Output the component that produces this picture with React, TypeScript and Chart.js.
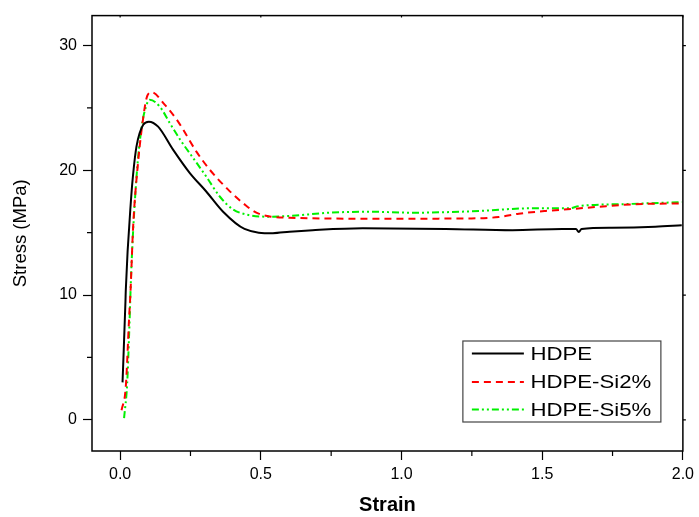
import React, { useEffect, useRef } from "react";
import { Chart, registerables } from "chart.js";

Chart.register(...registerables);

// ---- data (strain, stress in MPa) ----
const hdpeStrain = [0.0085, 0.019, 0.02, 0.04, 0.046, 0.058, 0.082, 0.102, 0.135, 0.188, 0.247, 0.306, 0.365, 0.442, 0.543, 0.602, 0.684, 0.862, 1.157, 1.394, 1.571, 1.62, 1.63, 1.64, 1.748, 1.902, 1.996];
const hdpeStress = [3.0, 9.55, 10.35, 18.07, 19.66, 21.9, 23.65, 23.9, 23.5, 21.66, 19.8, 18.3, 16.7, 15.3, 14.96, 15.08, 15.2, 15.35, 15.3, 15.2, 15.3, 15.3, 15.05, 15.3, 15.4, 15.48, 15.6];

const si2Strain = [0.005, 0.02, 0.032, 0.037, 0.046, 0.064, 0.082, 0.094, 0.111, 0.159, 0.206, 0.271, 0.318, 0.383, 0.442, 0.484, 0.537, 0.602, 0.921, 1.276, 1.346, 1.417, 1.512, 1.606, 1.701, 1.819, 1.996];
const si2Stress = [0.77, 2.63, 8.2, 10.35, 15.4, 20.7, 24.2, 25.8, 26.26, 25.25, 23.9, 21.5, 20.06, 18.47, 17.27, 16.6, 16.28, 16.2, 16.12, 16.15, 16.26, 16.52, 16.74, 16.9, 17.08, 17.27, 17.35];

const si5Strain = [0.014, 0.025, 0.032, 0.04, 0.058, 0.076, 0.094, 0.105, 0.141, 0.176, 0.218, 0.259, 0.306, 0.354, 0.401, 0.46, 0.531, 0.602, 0.744, 0.886, 1.039, 1.276, 1.453, 1.595, 1.63, 1.807, 1.996];
const si5Stress = [0.14, 2.9, 6.9, 12.2, 19.4, 23.4, 25.25, 25.65, 25.1, 23.8, 22.3, 21.0, 19.5, 17.9, 16.87, 16.4, 16.28, 16.34, 16.6, 16.68, 16.6, 16.74, 16.95, 16.95, 17.13, 17.3, 17.45];

const seriesNames = ["HDPE", "HDPE-Si2%", "HDPE-Si5%"];
const seriesColors = ["#000000", "#ff0000", "#00f000"];
const seriesDashes: number[][] = [[], [7, 5], [7, 3, 2, 3, 2, 3]];

const xMajorTicks = [0, 0.5, 1.0, 1.5, 2.0];
const xMinorTicks = [0.25, 0.75, 1.25, 1.75];
const yMajorTicks = [0, 10, 20, 30];
const yMinorTicks = [5, 15, 25];

const xTitle = "Strain";
const yTitle = "Stress (MPa)";

const toPoints = (xs: number[], ys: number[]) => xs.map((x, i) => ({ x, y: ys[i] }));

const framePlugin = {
  id: "frameAndLegend",
  afterDraw(chart: any) {
    const { ctx, chartArea } = chart;
    const { left, right, top, bottom } = chartArea;
    const xs = chart.scales.x;
    const ys = chart.scales.y;
    ctx.save();
    ctx.strokeStyle = "#000";
    ctx.lineWidth = 1.5;
    ctx.setLineDash([]);
    ctx.strokeRect(left, top, right - left, bottom - top);

    ctx.lineWidth = 1.2;
    ctx.beginPath();
    xMinorTicks.forEach((v) => {
      const px = xs.getPixelForValue(v);
      ctx.moveTo(px, bottom);
      ctx.lineTo(px, bottom + 5);
    });
    yMinorTicks.forEach((v) => {
      const py = ys.getPixelForValue(v);
      ctx.moveTo(left, py);
      ctx.lineTo(left - 5, py);
    });
    xMajorTicks.forEach((v) => {
      const px = xs.getPixelForValue(v);
      ctx.moveTo(px, top);
      ctx.lineTo(px, top + 2);
    });
    yMajorTicks.forEach((v) => {
      const py = ys.getPixelForValue(v);
      ctx.moveTo(right, py);
      ctx.lineTo(right + 3, py);
    });
    ctx.stroke();

    // legend box
    const bw = 198;
    const bh = 81;
    const bx = right - 22 - bw;
    const by = bottom - 29 - bh;
    ctx.fillStyle = "#fff";
    ctx.fillRect(bx, by, bw, bh);
    ctx.strokeStyle = "#444";
    ctx.lineWidth = 1.2;
    ctx.strokeRect(bx, by, bw, bh);

    const rowYs = [12.5, 41, 68.5];
    seriesNames.forEach((name, i) => {
      const ly = by + rowYs[i];
      ctx.strokeStyle = seriesColors[i];
      ctx.lineWidth = 2;
      ctx.setLineDash(seriesDashes[i]);
      ctx.beginPath();
      ctx.moveTo(bx + 9, ly);
      ctx.lineTo(bx + 61, ly);
      ctx.stroke();
      ctx.setLineDash([]);
      ctx.save();
      ctx.translate(bx + 67.5, ly + 1);
      ctx.scale(1.2, 1);
      ctx.fillStyle = "#000";
      ctx.font = "18.5px 'Liberation Sans', Arial, sans-serif";
      ctx.textBaseline = "middle";
      ctx.textAlign = "left";
      ctx.fillText(name, 0, 0);
      ctx.restore();
    });
    ctx.restore();
  },
};

export default function App() {
  const canvasRef = useRef<HTMLCanvasElement | null>(null);

  useEffect(() => {
    if (!canvasRef.current) return;
    Chart.defaults.font.family = "'Liberation Sans', Arial, sans-serif";
    Chart.defaults.color = "#000";
    const datasets = [
      toPoints(hdpeStrain, hdpeStress),
      toPoints(si2Strain, si2Stress),
      toPoints(si5Strain, si5Stress),
    ].map((data, i) => ({
      label: seriesNames[i],
      data,
      borderColor: seriesColors[i],
      backgroundColor: seriesColors[i],
      borderWidth: 2,
      borderDash: seriesDashes[i],
      pointRadius: 0,
      fill: false,
      cubicInterpolationMode: "monotone" as const,
    }));

    const chart = new Chart(canvasRef.current, {
      type: "line",
      data: { datasets },
      plugins: [framePlugin],
      options: {
        animation: false,
        responsive: false,
        maintainAspectRatio: false,
        layout: { padding: { top: 13, right: 15, left: 0, bottom: 0 } },
        plugins: { legend: { display: false }, tooltip: { enabled: false } },
        scales: {
          x: {
            type: "linear",
            min: -0.1,
            max: 2.0,
            afterFit: (s: any) => {
              s.height = 66;
            },
            afterBuildTicks: (s: any) => {
              s.ticks = xMajorTicks.map((v) => ({ value: v }));
            },
            ticks: {
              font: { size: 16 },
              color: "#000",
              padding: 5,
              maxRotation: 0,
              callback: (v: any) => Number(v).toFixed(1),
            },
            grid: { drawOnChartArea: false, drawTicks: true, tickLength: 9, tickWidth: 1.2, tickColor: "#000" },
            border: { display: false },
            title: {
              display: true,
              text: xTitle,
              font: { size: 20, weight: "bold" },
              color: "#000",
              padding: { top: 0, bottom: 0 },
            },
          },
          y: {
            type: "linear",
            min: -2.5,
            max: 32.4,
            afterFit: (s: any) => {
              s.width = 92;
            },
            afterBuildTicks: (s: any) => {
              s.ticks = yMajorTicks.map((v) => ({ value: v }));
            },
            ticks: {
              font: { size: 16 },
              color: "#000",
              padding: 6,
              callback: (v: any) => String(v),
            },
            grid: { drawOnChartArea: false, drawTicks: true, tickLength: 9, tickWidth: 1.2, tickColor: "#000" },
            border: { display: false },
            title: {
              display: true,
              text: yTitle,
              font: { size: 18.5 },
              color: "#000",
              padding: { top: 10, bottom: 0 },
            },
          },
        },
      },
    });
    return () => chart.destroy();
  }, []);

  return (
    <div style={{ position: "fixed", left: 0, top: 0, width: 699, height: 517, background: "#fff" }}>
      <canvas ref={canvasRef} width={699} height={517} style={{ width: 699, height: 517, display: "block" }} />
    </div>
  );
}
